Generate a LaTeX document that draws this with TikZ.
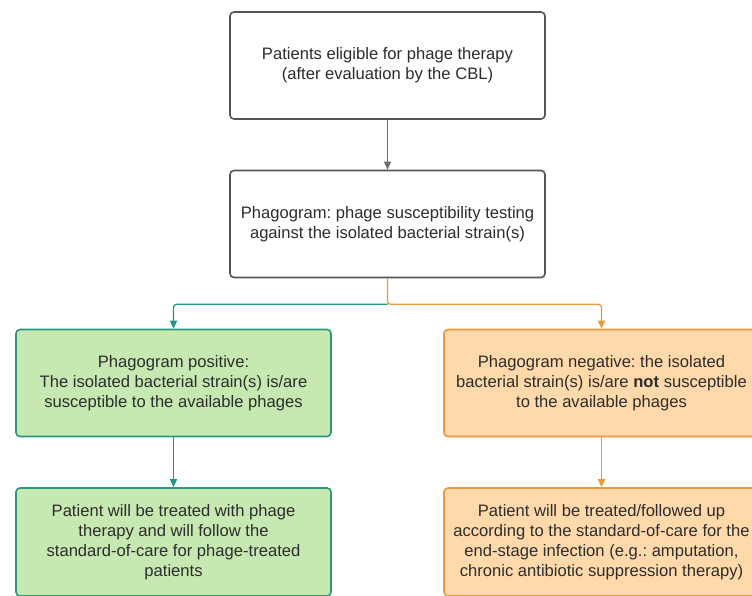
\documentclass[tikz,border=0pt]{standalone}
\usepackage{fontspec}
\setmainfont{Liberation Sans}
\usetikzlibrary{arrows.meta,positioning}
\frenchspacing

\definecolor{boxgray}{RGB}{85,85,85}
\definecolor{linegray}{RGB}{110,110,110}
\definecolor{txtgray}{RGB}{45,45,45}
\definecolor{posfill}{RGB}{198,232,177}
\definecolor{posdraw}{RGB}{42,152,122}
\definecolor{tealline}{RGB}{30,150,138}
\definecolor{negfill}{RGB}{255,217,170}
\definecolor{negdraw}{RGB}{238,152,58}

\tikzset{
  box/.style={draw, rounded corners=4pt, line width=1.6pt, minimum width=315pt, minimum height=107pt, align=center, text=txtgray, font=\fontsize{16.6}{20}\selectfont, inner sep=0pt},
  plainbox/.style={box, draw=boxgray, fill=white},
  posbox/.style={box, draw=posdraw, fill=posfill},
  negbox/.style={box, draw=negdraw, fill=negfill},
  flow/.style={line width=1.3pt, -{Triangle[length=8pt, width=7pt]}, rounded corners=3pt}
}

\begin{document}
\begin{tikzpicture}[x=1pt, y=-1pt]
    \useasboundingbox (0, 0) rectangle (752, 595);

    \node [plainbox] (eligible) at (387.5, 65.5) {Patients eligible for phage therapy\\(after evaluation by the CBL)};
    \node [plainbox] (phagogram) at (387.5, 224) {Phagogram: phage susceptibility testing\\against the isolated bacterial strain(s)};
    \node [posbox] (positive) at (173.5, 383) {Phagogram positive:\\The isolated bacterial strain(s) is/are\\susceptible to the available phages};
    \node [negbox] (negative) at (601.5, 383) {Phagogram negative: the isolated\\bacterial strain(s) is/are \textbf{not} susceptible\\to the available phages};
    \node [posbox, minimum height=108pt] (treated) at (173.5, 542) {Patient will be treated with phage\\therapy and will follow the\\standard-of-care for phage-treated\\patients};
    \node [negbox, minimum height=108pt] (standard) at (601.5, 542) {Patient will be treated/followed up\\according to the standard-of-care for the\\end-stage infection (e.g.: amputation,\\chronic antibiotic suppression therapy)};

    \coordinate (split) at ([yshift=-26pt] phagogram.south);

    \draw [flow, draw=linegray] (eligible) -- (phagogram);
    \draw [flow, draw=negdraw] (phagogram.south) -- (split) -| (negative.north);
    \draw [flow, draw=tealline] (split) -| (positive.north);
    \draw [flow, draw=tealline] (positive) -- (treated);
    \draw [flow, draw=negdraw] (negative) -- (standard);
  \end{tikzpicture}
\end{document}
